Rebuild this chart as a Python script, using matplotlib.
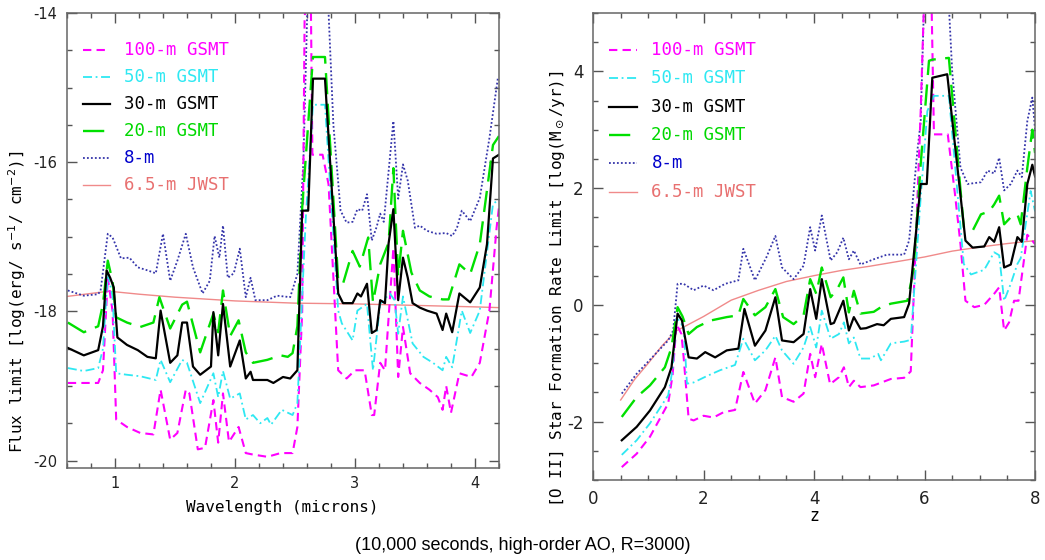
import numpy as np
import matplotlib
matplotlib.use("Agg")
import matplotlib.pyplot as plt
from matplotlib.ticker import MultipleLocator

plt.rcParams['axes.unicode_minus'] = False

# ---- left panel: flux limit vs wavelength ----
lam_100 = [0.607, 0.86, 0.90, 0.94, 0.98, 1.01, 1.10, 1.21, 1.32, 1.38, 1.46, 1.52, 1.59, 1.62,
           1.69, 1.75, 1.82, 1.86, 1.90, 1.95, 2.03, 2.09, 2.15, 2.27, 2.38, 2.48, 2.52, 2.56,
           2.58, 2.60, 2.63, 2.645, 2.73, 2.78, 2.86, 2.93, 3.00, 3.08, 3.14, 3.16, 3.21, 3.25,
           3.32, 3.36, 3.40, 3.46, 3.54, 3.62, 3.69, 3.73, 3.76, 3.80, 3.87, 3.97, 4.04, 4.12,
           4.18, 4.20]
f_100 = [-18.96, -18.96, -18.79, -17.55, -18.0, -19.45, -19.55, -19.63, -19.65, -19.05, -19.72,
         -19.63, -19.05, -19.10, -19.85, -19.83, -19.19, -19.76, -19.10, -19.75, -19.55, -19.90,
         -19.92, -19.95, -19.90, -19.90, -19.55, -18.0, -14.1, -13.5, -13.5, -15.9, -15.9, -16.3,
         -18.79, -18.90, -18.79, -18.79, -19.39, -19.39, -18.69, -18.79, -17.15, -18.88, -18.21,
         -18.83, -18.96, -19.05, -19.15, -19.32, -19.00, -19.36, -18.83, -18.88, -18.69, -17.99,
         -16.88, -16.6]

lam_50 = [0.607, 0.74, 0.86, 0.90, 0.94, 0.98, 1.01, 1.10, 1.21, 1.34, 1.38, 1.46, 1.56, 1.60,
          1.71, 1.82, 1.86, 1.90, 1.96, 2.04, 2.09, 2.15, 2.21, 2.27, 2.30, 2.39, 2.48, 2.52,
          2.56, 2.59, 2.65, 2.75, 2.86, 2.89, 2.98, 3.02, 3.10, 3.15, 3.21, 3.29, 3.33, 3.36,
          3.40, 3.48, 3.57, 3.65, 3.73, 3.76, 3.81, 3.89, 3.96, 4.04, 4.15, 4.20]
f_50 = [-18.76, -18.80, -18.76, -18.5, -17.49, -17.8, -18.83, -18.85, -18.87, -18.92, -18.65,
        -18.95, -18.65, -18.69, -19.23, -18.83, -19.15, -18.80, -19.17, -19.10, -19.45, -19.39,
        -19.50, -19.43, -19.52, -19.32, -19.39, -19.23, -17.8, -16.75, -15.23, -15.23, -17.99,
        -18.16, -18.39, -17.99, -17.90, -18.79, -17.90, -17.76, -17.85, -18.30, -17.80, -18.43,
        -18.61, -18.69, -18.79, -18.61, -18.75, -17.99, -18.29, -17.99, -16.56, -16.50]

lam_30 = [0.607, 0.74, 0.86, 0.90, 0.93, 0.96, 0.99, 1.02, 1.10, 1.19, 1.27, 1.34, 1.38, 1.46,
          1.52, 1.56, 1.60, 1.65, 1.71, 1.80, 1.82, 1.86, 1.90, 1.96, 2.04, 2.09, 2.13, 2.15,
          2.27, 2.32, 2.40, 2.46, 2.52, 2.56, 2.61, 2.65, 2.75, 2.86, 2.90, 2.98, 3.02, 3.05,
          3.10, 3.14, 3.18, 3.21, 3.25, 3.28, 3.32, 3.36, 3.40, 3.44, 3.48, 3.54, 3.60, 3.68,
          3.73, 3.76, 3.81, 3.87, 3.96, 4.04, 4.10, 4.15, 4.20]
f_30 = [-18.49, -18.59, -18.52, -18.2, -17.45, -17.55, -17.68, -18.35, -18.45, -18.52, -18.61,
        -18.63, -17.99, -18.69, -18.59, -18.15, -18.15, -18.74, -18.85, -18.74, -18.01, -18.59,
        -17.90, -18.74, -18.39, -18.90, -18.81, -18.92, -18.92, -18.96, -18.88, -18.90, -18.79,
        -16.65, -16.65, -14.88, -14.88, -17.76, -17.89, -17.89, -17.76, -17.80, -17.63, -18.29,
        -18.25, -17.85, -17.89, -17.09, -16.63, -17.85, -17.28, -17.55, -17.89, -17.95, -17.99,
        -18.03, -18.25, -18.03, -18.28, -17.76, -17.88, -17.68, -17.1, -15.95, -15.90]

lam_20 = [0.607, 0.74, 0.86, 0.90, 0.94, 0.98, 1.01, 1.10, 1.21, 1.32, 1.37, 1.46, 1.56, 1.60,
          1.71, 1.82, 1.86, 1.90, 1.96, 2.03, 2.09, 2.15, 2.27, 2.38, 2.44, 2.48, 2.52, 2.56,
          2.65, 2.75, 2.86, 2.90, 2.98, 3.04, 3.11, 3.15, 3.21, 3.28, 3.32, 3.36, 3.40, 3.47,
          3.54, 3.62, 3.73, 3.78, 3.87, 3.96, 4.04, 4.15, 4.20]
f_20 = [-18.15, -18.28, -18.20, -17.9, -17.32, -17.6, -18.08, -18.15, -18.21, -18.15, -17.81,
        -18.23, -17.91, -17.87, -18.55, -18.03, -18.28, -17.72, -18.33, -18.12, -18.55, -18.69,
        -18.65, -18.59, -18.61, -18.56, -18.20, -16.61, -14.59, -14.59, -17.59, -17.63, -17.19,
        -17.40, -17.01, -17.88, -17.37, -17.08, -16.08, -17.53, -16.92, -17.48, -17.72, -17.80,
        -17.84, -17.84, -17.37, -17.50, -17.10, -15.77, -15.65]

lam_8 = [0.607, 0.74, 0.86, 0.88, 0.94, 0.98, 1.05, 1.12, 1.19, 1.27, 1.34, 1.40, 1.46, 1.52,
         1.59, 1.65, 1.73, 1.79, 1.83, 1.87, 1.90, 1.94, 1.99, 2.04, 2.09, 2.13, 2.17, 2.27,
         2.35, 2.46, 2.52, 2.57, 2.61, 2.76, 2.78, 2.82, 2.88, 2.93, 2.98, 3.02, 3.06, 3.10,
         3.14, 3.18, 3.21, 3.24, 3.32, 3.36, 3.40, 3.44, 3.50, 3.54, 3.60, 3.68, 3.76, 3.81,
         3.85, 3.89, 3.96, 4.04, 4.12, 4.19]
f_8 = [-17.72, -17.79, -17.77, -17.72, -16.96, -17.01, -17.29, -17.28, -17.41, -17.45, -17.49,
       -16.96, -17.59, -17.32, -16.96, -17.41, -17.76, -17.59, -16.99, -17.28, -16.85, -17.55,
       -17.49, -17.16, -17.81, -17.55, -17.85, -17.85, -17.79, -17.81, -17.5, -15.99, -13.5,
       -13.5, -14.0, -15.5, -16.65, -16.81, -16.80, -16.63, -16.65, -16.43, -17.05, -16.87,
       -16.69, -16.80, -15.45, -16.49, -16.03, -16.25, -16.88, -16.85, -16.92, -16.96, -16.95,
       -16.99, -16.88, -16.65, -16.79, -16.48, -15.68, -14.88]

lam_jw = [0.6, 0.8, 0.95, 1.2, 1.5, 2.0, 2.5, 3.0, 3.5, 4.0, 4.2]
f_jw = [-17.80, -17.76, -17.73, -17.77, -17.81, -17.86, -17.89, -17.90, -17.92, -17.94, -17.95]

# ---- right panel: [O II] SFR limit vs redshift ----
z_100 = [0.52, 0.79, 1.03, 1.36, 1.44, 1.51, 1.60, 1.64, 1.73, 1.82, 2.00, 2.18, 2.36, 2.57,
         2.72, 2.93, 3.12, 3.30, 3.42, 3.63, 3.81, 3.93, 4.02, 4.14, 4.29, 4.45, 4.54, 4.63,
         4.72, 4.84, 5.08, 5.39, 5.63, 5.75, 5.84, 5.93, 6.00, 6.12, 6.17, 6.42, 6.55, 6.65,
         6.74, 6.90, 7.08, 7.26, 7.35, 7.44, 7.53, 7.62, 7.70, 7.86, 8.0]
s_100 = [-2.78, -2.55, -2.26, -1.69, -1.2, -0.33, -0.5, -0.9, -1.95, -1.98, -1.90, -1.93, -1.84,
         -1.80, -1.15, -1.69, -1.46, -0.90, -1.58, -1.66, -1.52, -0.84, -1.24, -0.67, -1.36,
         -1.24, -1.07, -1.41, -1.30, -1.41, -1.38, -1.27, -1.25, -1.14, 1.04, 3.32, 5.5, 5.5,
         2.92, 2.92, 1.9, 1.04, 0.07, -0.04, 0.00, 0.19, 0.30, -0.44, -0.30, 0.07, 0.07, 1.2, 1.04]

z_50 = [0.52, 0.79, 1.03, 1.36, 1.44, 1.51, 1.64, 1.70, 1.82, 2.06, 2.30, 2.57, 2.72, 2.93,
        3.12, 3.30, 3.42, 3.63, 3.81, 3.93, 4.04, 4.14, 4.30, 4.45, 4.54, 4.63, 4.72, 4.84,
        5.02, 5.16, 5.21, 5.39, 5.63, 5.75, 5.93, 6.05, 6.17, 6.44, 6.71, 6.84, 7.08, 7.26,
        7.35, 7.44, 7.56, 7.68, 7.74, 7.92, 8.0]
s_50 = [-2.57, -2.32, -2.03, -1.55, -1.1, -0.21, -0.38, -1.35, -1.33, -1.22, -1.12, -1.03, -0.58,
        -0.95, -0.78, -0.53, -0.78, -1.01, -0.73, -0.38, -0.73, -0.10, -0.58, -0.50, -0.30,
        -0.66, -0.56, -0.92, -0.92, -0.84, -0.95, -0.66, -0.63, -0.60, 1.84, 3.32, 3.58, 3.58,
        0.70, 0.52, 0.60, 0.90, 0.85, 0.07, 0.36, 0.70, 0.80, 1.95, 1.6]

z_30 = [0.52, 0.79, 1.03, 1.30, 1.42, 1.53, 1.61, 1.73, 1.88, 2.03, 2.21, 2.42, 2.63, 2.74,
        2.93, 3.12, 3.30, 3.42, 3.63, 3.81, 3.93, 4.04, 4.14, 4.30, 4.36, 4.53, 4.63, 4.72,
        4.84, 4.94, 5.14, 5.26, 5.39, 5.63, 5.72, 5.93, 6.04, 6.14, 6.41, 6.74, 6.87, 7.08,
        7.17, 7.26, 7.35, 7.44, 7.56, 7.68, 7.76, 7.86, 7.95, 8.0]
s_30 = [-2.32, -2.09, -1.81, -1.41, -1.07, -0.15, -0.27, -0.90, -0.92, -0.81, -0.90, -0.78,
        -0.75, -0.07, -0.70, -0.44, 0.13, -0.61, -0.64, -0.50, 0.27, -0.24, 0.44, -0.33, -0.31,
        0.07, -0.44, -0.21, -0.41, -0.40, -0.33, -0.35, -0.24, -0.21, 0.02, 2.07, 2.07, 3.89,
        3.95, 1.10, 0.98, 1.00, 1.16, 1.08, 1.33, 0.64, 0.69, 1.16, 1.08, 2.07, 2.40, 2.2]

z_20 = [0.52, 0.79, 1.03, 1.30, 1.42, 1.53, 1.62, 1.73, 1.88, 2.12, 2.42, 2.63, 2.72, 2.93,
        3.12, 3.30, 3.44, 3.63, 3.81, 3.93, 4.04, 4.14, 4.30, 4.42, 4.53, 4.63, 4.72, 4.84,
        5.08, 5.21, 5.39, 5.69, 5.80, 5.93, 6.08, 6.14, 6.44, 6.71, 6.87, 7.02, 7.17, 7.26,
        7.35, 7.44, 7.56, 7.68, 7.74, 7.86, 7.95, 8.0]
s_20 = [-1.92, -1.58, -1.38, -1.07, -0.73, -0.04, -0.2, -0.50, -0.38, -0.27, -0.21, -0.18, 0.10,
        -0.18, -0.04, 0.27, -0.21, -0.33, -0.18, 0.44, 0.19, 0.64, 0.13, 0.27, 0.47, -0.13,
        0.24, -0.15, -0.12, -0.04, 0.02, 0.07, 0.6, 2.41, 4.18, 4.20, 4.23, 1.33, 1.27, 1.55,
        1.60, 1.72, 1.87, 1.38, 1.50, 1.55, 1.38, 2.35, 3.0, 2.6]

z_8 = [0.52, 0.79, 1.03, 1.36, 1.45, 1.53, 1.64, 1.82, 2.00, 2.18, 2.39, 2.63, 2.72, 2.93,
       3.14, 3.30, 3.42, 3.63, 3.81, 3.93, 4.02, 4.14, 4.30, 4.42, 4.53, 4.63, 4.72, 4.84,
       5.08, 5.32, 5.63, 5.72, 5.87, 5.93, 6.00, 6.42, 6.50, 6.65, 6.78, 7.02, 7.14, 7.26,
       7.35, 7.44, 7.56, 7.68, 7.76, 7.86, 7.95, 8.0]
s_8 = [-1.52, -1.18, -0.94, -0.61, -0.44, 0.36, 0.36, 0.25, 0.33, 0.25, 0.36, 0.42, 0.96, 0.42,
       0.82, 1.18, 0.64, 0.44, 0.67, 1.33, 0.93, 1.53, 0.76, 0.90, 1.15, 0.78, 0.93, 0.69, 0.78,
       0.86, 0.86, 1.10, 2.64, 3.14, 5.5, 5.5, 4.0, 2.35, 2.07, 2.10, 2.30, 2.25, 2.52, 1.96,
       2.07, 2.30, 2.19, 3.15, 3.55, 3.0]

z_jw = [0.5, 0.75, 1.0, 1.25, 1.5, 2.0, 2.5, 3.0, 3.5, 4.0, 4.5, 5.0, 5.5, 6.0, 6.5, 7.0, 7.5, 8.0]
s_jw = [-1.63, -1.28, -1.0, -0.70, -0.45, -0.20, 0.08, 0.25, 0.40, 0.50, 0.59, 0.66, 0.74, 0.82,
        0.92, 0.99, 1.05, 1.10]

labels = ['100-m GSMT', '50-m GSMT', '30-m GSMT', '20-m GSMT', '8-m', '6.5-m JWST']
line_cols = ['#ff00ff', '#2ee8f2', 'black', '#00e000', '#3535aa', '#f08a8a']
text_cols = ['#ff00ff', '#2ee8f2', 'black', '#00d800', '#0000cc', '#e87070']
styles = [dict(lw=1.5, dashes=(4, 2.5)),
          dict(lw=1.3, dashes=(5, 2, 1, 2)),
          dict(lw=1.6, ls='-'),
          dict(lw=1.7, dashes=(9, 4)),
          dict(lw=1.3, dashes=(1, 1.2)),
          dict(lw=1.0, ls='-')]
mono = 'DejaVu Sans Mono'

fig = plt.figure(figsize=(10.45, 5.6), dpi=100)
ax1 = fig.add_axes([0.0641, 0.1643, 0.4134, 0.8125])
ax2 = fig.add_axes([0.5675, 0.1429, 0.4230, 0.8340])


def draw_panel(ax, series, leg_y0, leg_dy):
    order = [5, 4, 0, 1, 3, 2]
    for i in order:
        x, y = series[i]
        ax.plot(x, y, color=line_cols[i], **styles[i])
    for i, lab in enumerate(labels):
        yy = leg_y0 - i * leg_dy
        ax.plot([0.037, 0.10], [yy, yy], transform=ax.transAxes, color=line_cols[i],
                **styles[i])
        ax.text(0.132, yy, lab, transform=ax.transAxes, color=text_cols[i],
                family=mono, fontsize=12.5, va='center', ha='left')
    for sp in ax.spines.values():
        sp.set_color('#666666')
        sp.set_linewidth(1.1)
    ax.tick_params(which='both', direction='in', top=True, right=True, colors='#555555',
                   labelcolor='#222222')
    ax.tick_params(which='major', length=7, width=1)
    ax.tick_params(which='minor', length=3.5, width=1)


draw_panel(ax1, [(lam_100, f_100), (lam_50, f_50), (lam_30, f_30), (lam_20, f_20),
                 (lam_8, f_8), (lam_jw, f_jw)], 0.919, 0.0593)
ax1.set_xlim(0.6, 4.2)
ax1.set_ylim(-20.1, -14)
ax1.set_xticks([1, 2, 3, 4])
ax1.set_yticks([-20, -18, -16, -14])
ax1.xaxis.set_minor_locator(MultipleLocator(0.2))
ax1.yaxis.set_minor_locator(MultipleLocator(0.5))
ax1.tick_params(axis='x', labelsize=10.5, pad=6)
ax1.tick_params(axis='y', labelsize=10.5, pad=7)
ax1.set_xlabel('Wavelength (microns)', family=mono, fontsize=11.5)
ax1.xaxis.set_label_coords(0.498, -0.071)
ax1.set_ylabel(r'Flux limit [log(erg/ s$^{-1}$/ cm$^{-2}$)]', family=mono, fontsize=11.5)
ax1.yaxis.set_label_coords(-0.09, 0.365)

draw_panel(ax2, [(z_100, s_100), (z_50, s_50), (z_30, s_30), (z_20, s_20),
                 (z_8, s_8), (z_jw, s_jw)], 0.921, 0.0608)
ax2.set_xlim(0, 8)
ax2.set_ylim(-3, 5)
ax2.set_xticks([0, 2, 4, 6, 8])
ax2.set_yticks([-2, 0, 2, 4])
ax2.xaxis.set_minor_locator(MultipleLocator(0.5))
ax2.yaxis.set_minor_locator(MultipleLocator(0.5))
ax2.tick_params(axis='both', labelsize=12, pad=7)
ax2.set_xlabel('z', family=mono, fontsize=12)
ax2.xaxis.set_label_coords(0.5, -0.058)
ax2.set_ylabel(r'[O II] Star Formation Rate Limit [log(M$_\odot$/yr)]', family=mono,
               fontsize=11.5)
ax2.yaxis.set_label_coords(-0.06, 0.41)

fig.text(0.5, 0.025, '(10,000 seconds, high-order AO, R=3000)', ha='center', va='center',
         family='Liberation Sans', fontsize=13)

fig.savefig('out.png', dpi=100)
